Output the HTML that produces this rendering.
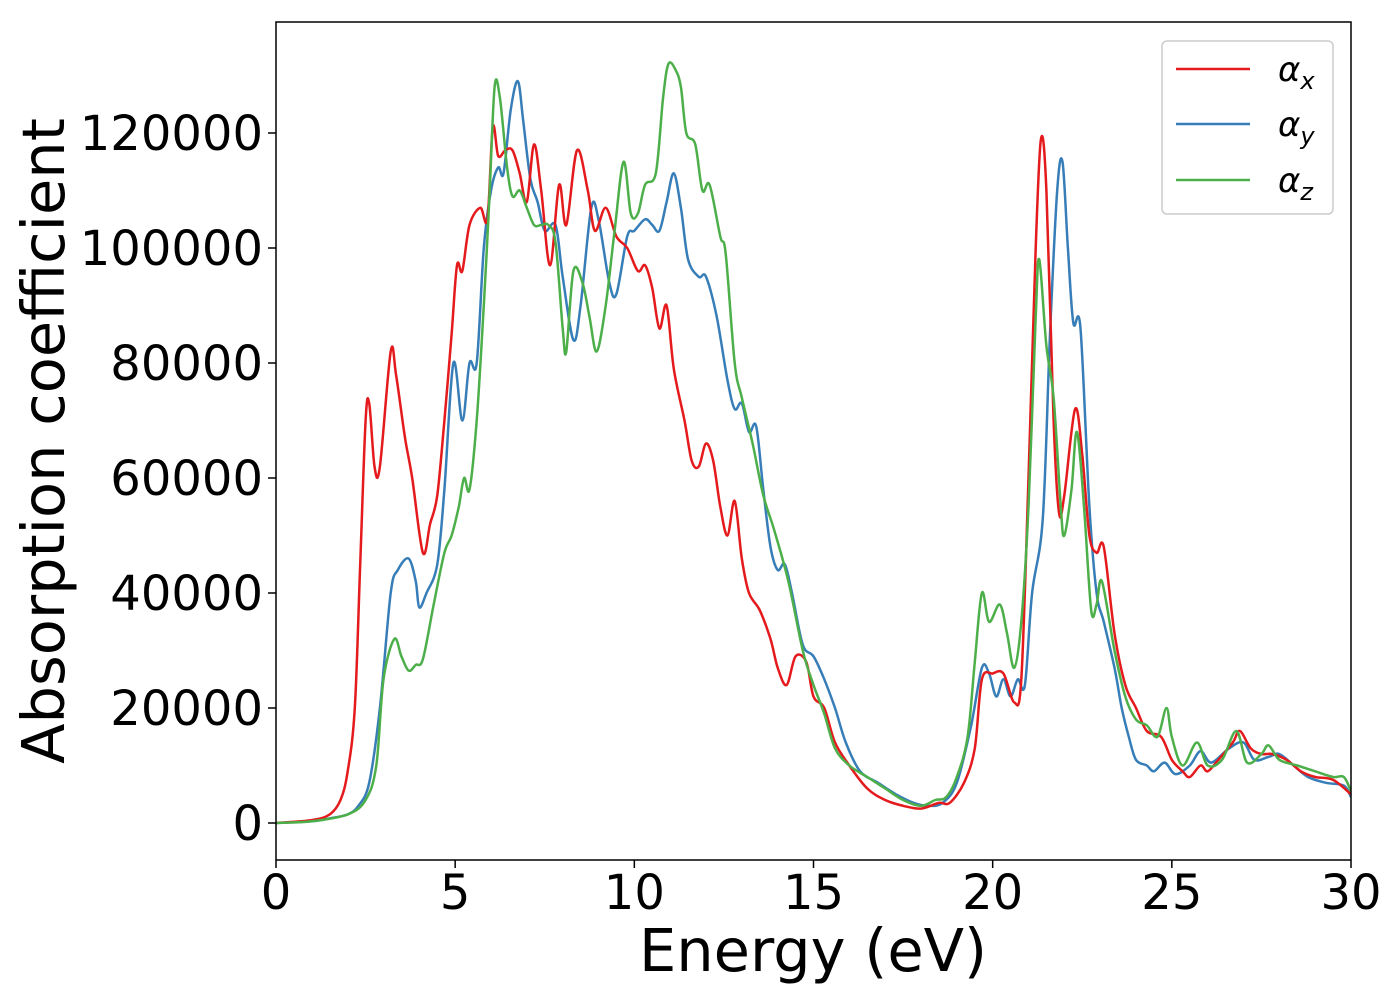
<!DOCTYPE html>
<html><head><meta charset="utf-8"><style>
html,body{margin:0;padding:0;background:#fff;width:1400px;height:1000px;overflow:hidden}
svg{font-family:"DejaVu Sans","Liberation Sans",sans-serif}
</style></head><body>
<svg id="chart" width="1400" height="1000" viewBox="0 0 1400 1000">
<g id="series" clip-path="url(#clip)"></g>
<defs><clipPath id="clip"><rect x="276" y="22" width="1075" height="838"/></clipPath></defs>
<rect x="276" y="22" width="1075" height="838" fill="none" stroke="#000" stroke-width="1.5"/>
<g id="ticks"></g>
<text x="813" y="971" font-size="59" text-anchor="middle">Energy (eV)</text>
<text transform="translate(64,441) rotate(-90)" font-size="59" text-anchor="middle">Absorption coefficient</text>
<g>
<rect x="1162" y="41" width="171" height="173" rx="5" fill="#fff" stroke="#ccc" stroke-width="1.5"/>
<g><line x1="1176" y1="69" x2="1250" y2="69" stroke="#e41a1c" stroke-width="2.5"/><text x="1278" y="81" font-size="34" font-style="italic">α<tspan font-size="24" dy="8">x</tspan></text></g>
<g><line x1="1176" y1="124" x2="1250" y2="124" stroke="#377eb8" stroke-width="2.5"/><text x="1278" y="136" font-size="34" font-style="italic">α<tspan font-size="24" dy="8">y</tspan></text></g>
<g><line x1="1176" y1="180" x2="1250" y2="180" stroke="#4daf4a" stroke-width="2.5"/><text x="1278" y="192" font-size="34" font-style="italic">α<tspan font-size="24" dy="8">z</tspan></text></g>
</g>
</svg>
<script>
const xTicks=[0,5,10,15,20,25,30];
const yTicks=[0,20000,40000,60000,80000,100000,120000];
const energyX=[0,1,1.5,1.8,2.0,2.2,2.35,2.5,2.6,2.75,2.9,3.2,3.35,3.6,3.8,4.1,4.3,4.5,4.7,4.9,5.05,5.2,5.4,5.7,5.9,6.05,6.2,6.4,6.6,6.8,7.0,7.2,7.4,7.65,7.9,8.1,8.4,8.7,8.9,9.2,9.5,9.8,10.1,10.3,10.5,10.7,10.9,11.1,11.4,11.6,11.8,12.0,12.2,12.4,12.6,12.8,13.0,13.2,13.5,13.8,14.0,14.25,14.5,14.8,15.0,15.3,15.6,16.0,16.5,17.0,17.5,18.0,18.5,18.8,19.2,19.5,19.7,20.0,20.3,20.6,20.8,21.0,21.2,21.35,21.5,21.7,21.85,22.0,22.3,22.5,22.7,22.9,23.1,23.4,23.7,24.0,24.3,24.7,25.0,25.3,25.5,25.8,26.0,26.3,26.7,26.9,27.2,27.5,27.8,28.2,28.6,29.0,29.5,30];
const alphaX=[0,500,1500,4000,9000,20000,45000,70000,73000,62000,62000,82000,78000,67000,60000,47000,52000,57000,70000,85000,97000,96000,104000,107000,105000,121000,116000,117000,117000,113000,108000,118000,110000,97000,111000,104000,117000,110000,103000,107000,102000,100000,96000,97000,93000,86000,90000,79000,70000,63000,62000,66000,63000,55000,50000,56000,46000,40000,37000,32000,27000,24000,29000,28000,22000,20000,14000,10000,6000,4000,3000,2500,3500,3500,7000,13000,25000,26000,26000,21000,25000,60000,100000,119000,110000,70000,54000,57000,72000,64000,50000,47000,48000,33000,24000,20000,16000,15000,11000,9000,8000,10000,9000,11000,14000,16000,13000,12000,12000,11000,9000,8000,7500,5000];
const energyY=[0,1,1.5,2.0,2.3,2.6,2.9,3.2,3.4,3.7,3.9,4.0,4.2,4.5,4.7,4.95,5.2,5.4,5.6,5.8,6.0,6.2,6.35,6.55,6.75,6.9,7.1,7.3,7.5,7.8,8.0,8.3,8.5,8.8,9.0,9.3,9.5,9.8,10.0,10.3,10.5,10.7,10.9,11.1,11.3,11.5,11.8,12.0,12.3,12.6,12.8,13.0,13.2,13.4,13.6,13.8,14.0,14.2,14.4,14.7,15.0,15.3,15.6,15.9,16.3,16.8,17.3,17.8,18.2,18.6,19.0,19.4,19.7,19.9,20.1,20.3,20.5,20.7,20.9,21.1,21.4,21.6,21.8,21.95,22.1,22.25,22.45,22.7,22.9,23.1,23.4,23.6,23.8,24.0,24.3,24.5,24.8,25.1,25.5,25.8,26.1,26.6,27.0,27.3,27.7,28.0,28.4,28.8,29.3,29.8,30];
const alphaY=[0,300,800,1500,3000,7000,20000,40000,44000,46000,42000,37500,40000,45000,58000,80000,70000,80000,80000,100000,110000,114000,113000,124000,129000,122000,112000,108000,103000,104000,95000,84000,90000,107000,105000,94000,92000,102000,103000,105000,104000,103000,108000,113000,107000,98000,95000,95000,88000,77000,72000,73000,68000,69000,58000,48000,44000,45000,40000,31000,29000,25000,20000,14000,9000,7000,5000,3500,3000,3500,7000,17000,27000,26000,22000,25000,22000,25000,24000,40000,53000,85000,110000,115000,100000,87000,86000,55000,40000,35000,27000,20000,15000,11000,10000,9000,10500,8500,10000,12500,10500,13000,14000,11000,11500,12000,10000,8000,7000,6500,4500];
const energyZ=[0,1,2.0,2.5,2.8,3.0,3.3,3.5,3.7,3.9,4.1,4.4,4.7,4.9,5.1,5.25,5.4,5.6,5.8,5.95,6.1,6.25,6.45,6.6,6.8,7.0,7.2,7.4,7.6,7.8,8.0,8.1,8.3,8.55,8.75,8.95,9.2,9.45,9.7,9.9,10.1,10.3,10.6,10.8,10.95,11.15,11.3,11.45,11.7,11.9,12.1,12.4,12.55,12.8,13.0,13.3,13.6,13.9,14.3,14.7,15.0,15.3,15.6,16.0,16.5,17.0,17.5,18.0,18.4,18.7,19.0,19.3,19.5,19.7,19.9,20.2,20.4,20.6,20.8,21.0,21.2,21.3,21.5,21.7,21.9,22.0,22.2,22.35,22.55,22.75,22.9,23.05,23.4,23.7,24.0,24.3,24.6,24.85,25.0,25.3,25.7,26.0,26.4,26.8,27.1,27.5,27.7,28.0,28.5,29.0,29.5,29.8,30];
const alphaZ=[0,300,1500,4000,10000,25000,32000,29000,26500,27500,28500,38000,47000,50000,55000,60000,58000,70000,90000,108000,128000,126000,114000,109000,110000,107000,104000,104000,104000,101000,86000,82000,96000,94000,88000,82000,90000,103000,115000,106000,106000,111000,113000,126000,132000,131000,128000,120000,118000,110000,111000,102000,99000,80000,74000,66000,57000,51000,42000,30000,24000,19000,13000,10000,8000,6000,4000,3000,4000,4500,8000,15000,28000,40000,35000,38000,33000,27000,35000,55000,88000,98000,83000,74000,55000,50000,58000,68000,55000,37000,38000,42000,30000,22000,18000,17000,15000,20000,15000,10000,14000,10000,11000,16000,10500,12000,13500,11000,10000,9000,8000,8000,5500];

const NS="http://www.w3.org/2000/svg";
const X0=276,X1=1351,Y0=823,Ypx=115/20000;
function sx(v){return X0+(X1-X0)*v/30;}
function sy(v){return Y0-v*Ypx;}
const ticks=document.getElementById('ticks');
xTicks.forEach(t=>{
  const l=document.createElementNS(NS,'line');
  l.setAttribute('x1',sx(t));l.setAttribute('x2',sx(t));l.setAttribute('y1',860);l.setAttribute('y2',868);l.setAttribute('stroke','#000');l.setAttribute('stroke-width','1.5');
  
  
  ticks.appendChild(l);
  const tx=document.createElementNS(NS,'text');
  tx.setAttribute('x',sx(t));tx.setAttribute('y',909);tx.setAttribute('font-size','48');tx.setAttribute('text-anchor','middle');
  tx.textContent=t;
  
  
  ticks.appendChild(tx);
});
yTicks.forEach(t=>{
  const l=document.createElementNS(NS,'line');
  l.setAttribute('x1',268);l.setAttribute('x2',276);l.setAttribute('y1',sy(t));l.setAttribute('y2',sy(t));l.setAttribute('stroke','#000');l.setAttribute('stroke-width','1.5');
  
  
  ticks.appendChild(l);
  const tx=document.createElementNS(NS,'text');
  tx.setAttribute('x',263);tx.setAttribute('y',sy(t)+17);tx.setAttribute('font-size','48');tx.setAttribute('text-anchor','end');
  tx.textContent=t;
  
  
  ticks.appendChild(tx);
});
function pathFor(xs,ys){
  const p=xs.map((x,i)=>[sx(x),sy(ys[i])]);
  let d='M'+p[0][0].toFixed(1)+','+p[0][1].toFixed(1);
  for(let i=0;i<p.length-1;i++){
    const a=p[Math.max(0,i-1)],b=p[i],c=p[i+1],e=p[Math.min(p.length-1,i+2)];
    const c1=[b[0]+(c[0]-a[0])/6,b[1]+(c[1]-a[1])/6];
    const c2=[c[0]-(e[0]-b[0])/6,c[1]-(e[1]-b[1])/6];
    d+=' C'+c1[0].toFixed(1)+','+c1[1].toFixed(1)+' '+c2[0].toFixed(1)+','+c2[1].toFixed(1)+' '+c[0].toFixed(1)+','+c[1].toFixed(1);
  }
  return d;
}
const sg=document.getElementById('series');
[[energyY,alphaY,'#377eb8','series-alpha-y'],[energyX,alphaX,'#e41a1c','series-alpha-x'],[energyZ,alphaZ,'#4daf4a','series-alpha-z']].forEach(s=>{
  const p=document.createElementNS(NS,'path');
  p.setAttribute('d',pathFor(s[0],s[1]));
  p.setAttribute('fill','none');p.setAttribute('stroke',s[2]);p.setAttribute('stroke-width','2.5');
  
  
  sg.appendChild(p);
});
</script>
</body></html>
